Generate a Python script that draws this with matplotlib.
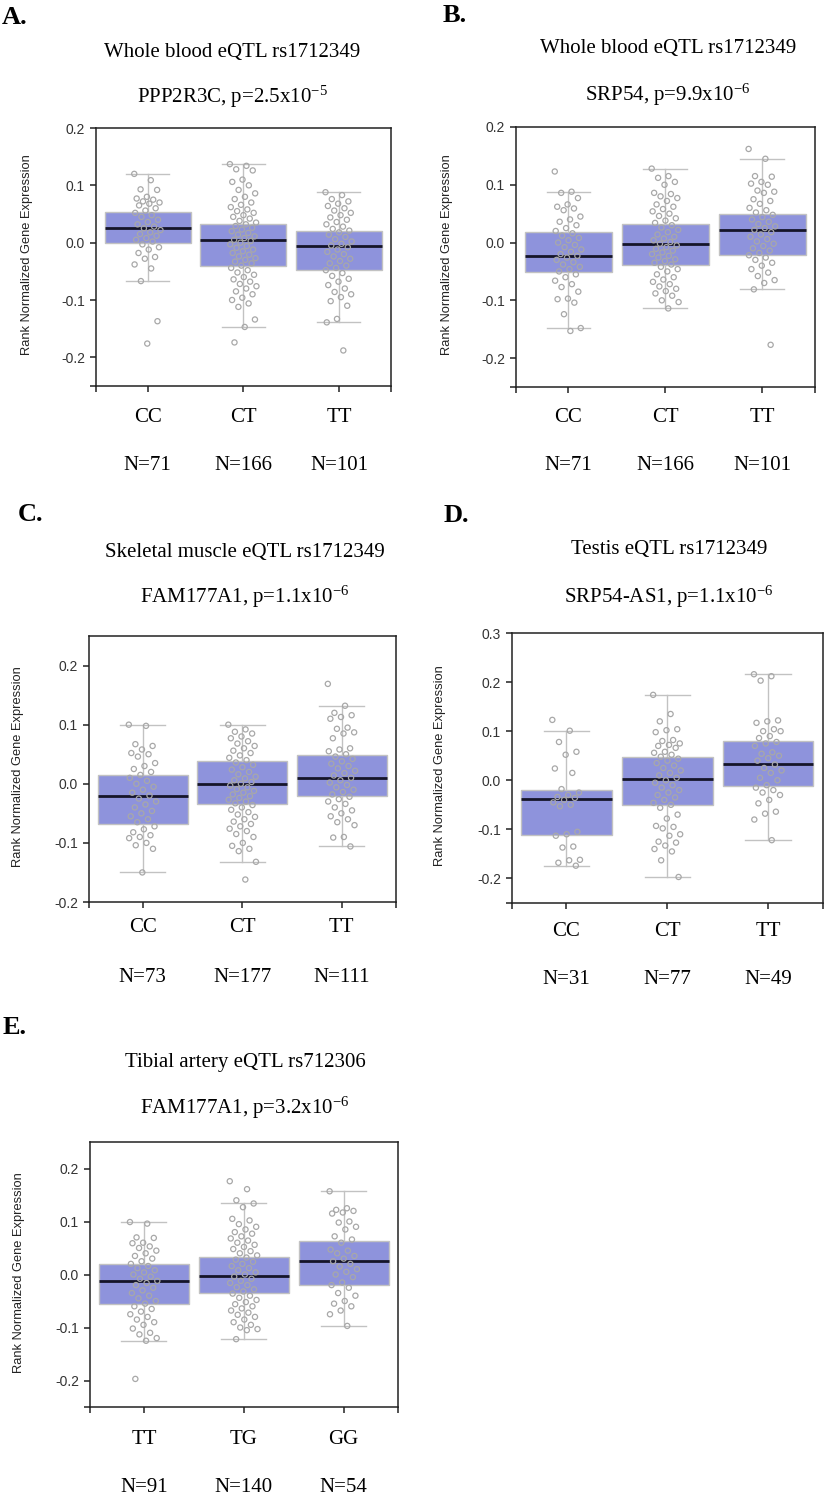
import numpy as np
import matplotlib
matplotlib.use("Agg")
import matplotlib.pyplot as plt

plt.rcParams['mathtext.fontset'] = 'custom'
plt.rcParams['mathtext.rm'] = 'Liberation Serif'
plt.rcParams['mathtext.it'] = 'Liberation Serif:italic'

SERIF = 'Liberation Serif'
SANS = 'Liberation Sans'

# ---------------------------------------------------------------
# Panel meta data
# ---------------------------------------------------------------
panel_letters = ['A.', 'B.', 'C.', 'D.', 'E.']
tissue_titles = ['Whole blood eQTL rs1712349', 'Whole blood eQTL rs1712349',
                 'Skeletal muscle eQTL rs1712349', 'Testis eQTL rs1712349',
                 'Tibial artery eQTL rs712306']
gene_titles = [r'PPP2R3C, p=2.5x10$^{-5}$', r'SRP54, p=9.9x10$^{-6}$',
               r'FAM177A1, p=1.1x10$^{-6}$', r'SRP54-AS1, p=1.1x10$^{-6}$',
               r'FAM177A1, p=3.2x10$^{-6}$']
genotypes = [['CC', 'CT', 'TT'], ['CC', 'CT', 'TT'], ['CC', 'CT', 'TT'],
             ['CC', 'CT', 'TT'], ['TT', 'TG', 'GG']]
sample_sizes = [[71, 166, 101], [71, 166, 101], [73, 177, 111],
                [31, 77, 49], [91, 140, 54]]
y_limits = [(-0.25, 0.2), (-0.25, 0.2), (-0.2, 0.25), (-0.25, 0.3), (-0.25, 0.25)]
y_ticks = [[-0.2, -0.1, 0.0, 0.1, 0.2], [-0.2, -0.1, 0.0, 0.1, 0.2],
           [-0.2, -0.1, 0.0, 0.1, 0.2], [-0.2, -0.1, 0.0, 0.1, 0.2, 0.3],
           [-0.2, -0.1, 0.0, 0.1, 0.2]]

# box statistics per group: (whisker low, q1, median, q3, whisker high)
box_stats = [
    [(-0.067, 0.000, 0.026, 0.054, 0.119), (-0.147, -0.040, 0.004, 0.032, 0.137), (-0.139, -0.048, -0.005, 0.021, 0.088)],
    [(-0.148, -0.051, -0.023, 0.018, 0.088), (-0.114, -0.038, -0.003, 0.032, 0.128), (-0.081, -0.022, 0.022, 0.049, 0.145)],
    [(-0.149, -0.068, -0.020, 0.015, 0.100), (-0.132, -0.034, -0.001, 0.039, 0.100), (-0.106, -0.020, 0.010, 0.048, 0.132)],
    [(-0.175, -0.112, -0.038, -0.020, 0.101), (-0.197, -0.050, 0.002, 0.048, 0.174), (-0.122, -0.012, 0.033, 0.080, 0.216)],
    [(-0.125, -0.056, -0.013, 0.020, 0.100), (-0.122, -0.035, -0.003, 0.033, 0.134), (-0.097, -0.020, 0.025, 0.064, 0.157)],
]

# individual sample values (overlapping points merged)
A_CC = [0.120, 0.109, 0.093, 0.092, 0.080, 0.077, 0.075, 0.072, 0.070, 0.068, 0.065, 0.060, 0.056, 0.052,
        0.048, 0.045, 0.040, 0.036, 0.032, 0.028, 0.025, 0.022, 0.018, 0.015, 0.012, 0.008, 0.005, 0.002,
        -0.003, -0.008, -0.012, -0.018, -0.025, -0.028, -0.038, -0.045, -0.067, -0.137, -0.176]
A_CT = [0.137, 0.134, 0.128, 0.126, 0.110, 0.106, 0.100, 0.092, 0.086, 0.080, 0.076, 0.070, 0.066, 0.062,
        0.058, 0.055, 0.052, 0.048, 0.045, 0.042, 0.038, 0.035, 0.032, 0.029, 0.026, 0.023, 0.020, 0.017,
        0.014, 0.011, 0.008, 0.005, 0.003, 0.000, -0.003, -0.006, -0.009, -0.012, -0.015, -0.018, -0.021,
        -0.024, -0.027, -0.030, -0.033, -0.036, -0.040, -0.044, -0.048, -0.052, -0.056, -0.060, -0.064,
        -0.068, -0.072, -0.076, -0.080, -0.085, -0.090, -0.096, -0.100, -0.106, -0.112, -0.134, -0.147, -0.174]
A_TT = [0.088, 0.083, 0.076, 0.072, 0.068, 0.064, 0.060, 0.056, 0.052, 0.048, 0.044, 0.040, 0.036, 0.032,
        0.028, 0.024, 0.021, 0.018, 0.014, 0.010, 0.006, 0.002, -0.002, -0.005, -0.008, -0.012, -0.016,
        -0.020, -0.024, -0.028, -0.032, -0.036, -0.040, -0.044, -0.048, -0.053, -0.058, -0.063, -0.068,
        -0.074, -0.080, -0.086, -0.090, -0.095, -0.102, -0.110, -0.133, -0.139, -0.188]

B_CC = [0.123, 0.088, 0.086, 0.077, 0.066, 0.062, 0.059, 0.056, 0.045, 0.040, 0.036, 0.030, 0.025, 0.020,
        0.016, 0.012, 0.008, 0.004, 0.000, -0.004, -0.008, -0.012, -0.016, -0.020, -0.023, -0.026, -0.030,
        -0.034, -0.038, -0.042, -0.046, -0.050, -0.055, -0.060, -0.066, -0.072, -0.077, -0.085, -0.097,
        -0.098, -0.104, -0.124, -0.148, -0.153]
B_CT = [0.128, 0.115, 0.112, 0.105, 0.100, 0.086, 0.084, 0.080, 0.077, 0.072, 0.066, 0.062, 0.058, 0.054,
        0.050, 0.046, 0.042, 0.038, 0.034, 0.030, 0.026, 0.022, 0.018, 0.014, 0.010, 0.007, 0.004, 0.001,
        -0.002, -0.005, -0.008, -0.011, -0.014, -0.017, -0.020, -0.023, -0.026, -0.029, -0.032, -0.035,
        -0.038, -0.042, -0.046, -0.050, -0.055, -0.060, -0.064, -0.068, -0.072, -0.076, -0.080, -0.084,
        -0.088, -0.092, -0.100, -0.103, -0.114]
B_TT = [0.162, 0.145, 0.115, 0.114, 0.105, 0.102, 0.100, 0.090, 0.088, 0.086, 0.075, 0.072, 0.067, 0.060,
        0.056, 0.052, 0.048, 0.044, 0.040, 0.036, 0.032, 0.028, 0.025, 0.022, 0.018, 0.014, 0.010, 0.006,
        0.002, -0.002, -0.006, -0.010, -0.014, -0.018, -0.022, -0.026, -0.030, -0.035, -0.040, -0.046,
        -0.052, -0.058, -0.065, -0.070, -0.081, -0.177]

C_CC = [0.100, 0.098, 0.067, 0.064, 0.058, 0.052, 0.050, 0.046, 0.035, 0.030, 0.025, 0.020, 0.015, 0.010,
        0.005, 0.000, -0.005, -0.010, -0.015, -0.020, -0.025, -0.030, -0.035, -0.040, -0.046, -0.050,
        -0.055, -0.060, -0.065, -0.072, -0.077, -0.082, -0.087, -0.090, -0.092, -0.100, -0.104, -0.110, -0.150]
C_CT = [0.100, 0.092, 0.088, 0.085, 0.080, 0.077, 0.072, 0.068, 0.064, 0.060, 0.056, 0.052, 0.048, 0.044,
        0.040, 0.036, 0.032, 0.028, 0.024, 0.020, 0.016, 0.012, 0.009, 0.006, 0.003, 0.000, -0.003, -0.006,
        -0.009, -0.012, -0.015, -0.018, -0.021, -0.024, -0.027, -0.030, -0.033, -0.036, -0.040, -0.044,
        -0.048, -0.052, -0.056, -0.060, -0.064, -0.068, -0.072, -0.076, -0.080, -0.085, -0.090, -0.100,
        -0.105, -0.110, -0.114, -0.132, -0.162]
C_TT = [0.169, 0.132, 0.120, 0.116, 0.113, 0.110, 0.095, 0.093, 0.087, 0.085, 0.077, 0.060, 0.058, 0.055,
        0.050, 0.046, 0.042, 0.038, 0.034, 0.030, 0.026, 0.022, 0.018, 0.014, 0.010, 0.006, 0.002, -0.002,
        -0.006, -0.010, -0.014, -0.018, -0.022, -0.026, -0.030, -0.034, -0.040, -0.045, -0.050, -0.055,
        -0.060, -0.065, -0.070, -0.090, -0.091, -0.106]

D_CC = [0.123, 0.101, 0.078, 0.058, 0.052, 0.024, 0.015, -0.018, -0.025, -0.030, -0.034, -0.036, -0.040,
        -0.045, -0.050, -0.053, -0.105, -0.110, -0.113, -0.135, -0.137, -0.162, -0.163, -0.168, -0.174]
D_CT = [0.174, 0.135, 0.120, 0.104, 0.102, 0.098, 0.082, 0.080, 0.075, 0.072, 0.070, 0.066, 0.058, 0.056,
        0.052, 0.048, 0.044, 0.040, 0.035, 0.030, 0.025, 0.020, 0.015, 0.010, 0.005, 0.000, -0.005, -0.010,
        -0.015, -0.020, -0.025, -0.030, -0.035, -0.040, -0.046, -0.050, -0.056, -0.070, -0.078, -0.093,
        -0.095, -0.098, -0.110, -0.113, -0.125, -0.127, -0.133, -0.140, -0.145, -0.163, -0.197]
D_TT = [0.216, 0.212, 0.203, 0.122, 0.120, 0.117, 0.104, 0.100, 0.100, 0.090, 0.086, 0.078, 0.075, 0.070,
        0.057, 0.054, 0.050, 0.045, 0.040, 0.032, 0.025, 0.020, 0.015, 0.005, 0.000, -0.010, -0.015, -0.020,
        -0.025, -0.030, -0.040, -0.047, -0.064, -0.068, -0.080, -0.122]

E_TT = [0.099, 0.096, 0.070, 0.069, 0.060, 0.059, 0.053, 0.050, 0.045, 0.040, 0.035, 0.030, 0.025, 0.020,
        0.016, 0.012, 0.008, 0.004, 0.000, -0.004, -0.008, -0.012, -0.016, -0.020, -0.025, -0.030, -0.035,
        -0.040, -0.045, -0.050, -0.055, -0.060, -0.065, -0.070, -0.075, -0.080, -0.085, -0.090, -0.095,
        -0.102, -0.110, -0.113, -0.120, -0.125, -0.197]
E_TG = [0.176, 0.161, 0.140, 0.134, 0.127, 0.105, 0.102, 0.095, 0.090, 0.085, 0.080, 0.077, 0.072, 0.068,
        0.064, 0.060, 0.056, 0.052, 0.048, 0.044, 0.040, 0.036, 0.032, 0.028, 0.024, 0.020, 0.016, 0.012,
        0.008, 0.004, 0.000, -0.004, -0.008, -0.012, -0.016, -0.020, -0.024, -0.028, -0.032, -0.036, -0.040,
        -0.044, -0.048, -0.052, -0.056, -0.060, -0.064, -0.068, -0.072, -0.076, -0.080, -0.085, -0.090,
        -0.095, -0.100, -0.103, -0.105, -0.122]
E_GG = [0.157, 0.125, 0.122, 0.120, 0.117, 0.115, 0.100, 0.098, 0.090, 0.085, 0.072, 0.066, 0.060, 0.047,
        0.045, 0.040, 0.035, 0.030, 0.025, 0.020, 0.015, 0.010, 0.005, 0.000, -0.005, -0.015, -0.020, -0.025,
        -0.035, -0.040, -0.050, -0.055, -0.060, -0.068, -0.075, -0.097]

points = [[A_CC, A_CT, A_TT], [B_CC, B_CT, B_TT], [C_CC, C_CT, C_TT],
          [D_CC, D_CT, D_TT], [E_TT, E_TG, E_GG]]

# ---------------------------------------------------------------
# Layout (pixel boxes in the 824 x 1499 canvas)
# ---------------------------------------------------------------
W, H = 824, 1499
# left, right, top, bottom of each plot frame
frames = [(96, 391, 128, 386), (516, 815, 127, 387), (89, 396, 636, 902),
          (512, 823, 633, 903), (90, 398, 1142, 1407)]
letter_xy = [(2, 17), (443, 16), (18, 515), (444, 516), (3, 1028)]
title_x = [232, 668, 245, 669, 245]
title_y = [(52, 97), (49, 95), (552, 597), (550, 597), (1063, 1108)]
label_y = [(418, 465), (418, 465), (928, 977), (932, 980), (1440, 1487)]
ylabel_x = [27, 447, 18, 440, 19]

BOX_COLOR = '#8e93dc'
GREY = '#c2c2c2'
DOT = '#a8a8a8'

fig = plt.figure(figsize=(W / 100, H / 100), dpi=100)


def fx(px):
    return px / W


def fy(py):
    return 1 - py / H


for p in range(5):
    l, r, t, b = frames[p]
    ax = fig.add_axes([fx(l), fy(b), (r - l) / W, (b - t) / H])

    stats = []
    for k, (lo, q1, med, q3, hi) in enumerate(box_stats[p]):
        stats.append(dict(whislo=lo, q1=q1, med=med, q3=q3, whishi=hi, fliers=[]))
    ax.bxp(stats, positions=[0, 1, 2], widths=0.9, patch_artist=True,
           showfliers=False, capwidths=0.45,
           boxprops=dict(facecolor=BOX_COLOR, edgecolor=GREY, linewidth=1.0),
           whiskerprops=dict(color=GREY, linewidth=1.0),
           capprops=dict(color=GREY, linewidth=1.0),
           medianprops=dict(color='#15152a', linewidth=2.0), zorder=2)

    for k, vals in enumerate(points[p]):
        vals = np.array(vals)
        # spread points sideways like a strip plot
        offs = ((np.arange(len(vals)) * 0.618034) % 1 - 0.5) * 0.28
        ax.scatter(k + offs, vals, s=14, facecolors='none', edgecolors=DOT,
                   linewidths=0.9, zorder=3)

    ax.set_xlim(-0.54, 2.545)
    ax.set_ylim(*y_limits[p])
    ax.set_yticks(y_ticks[p])
    ax.set_yticklabels(['%.1f' % v for v in y_ticks[p]], fontfamily=SANS, fontsize=10, color='#333333')
    ax.set_yticks([y_limits[p][0]], minor=True)
    ax.set_xticks([0, 1, 2])
    ax.set_xticklabels([])
    ax.set_xticks([-0.54, 2.545], minor=True)
    ax.tick_params(which='both', direction='out', length=4.5, width=1.1, color='#222222')
    for s in ax.spines.values():
        s.set_color('#222222')
        s.set_linewidth(1.1)

    # text around the plot
    fig.text(fx(letter_xy[p][0]), fy(letter_xy[p][1]), panel_letters[p], fontfamily=SERIF,
             fontsize=19, fontweight='bold', ha='left', va='center')
    fig.text(fx(title_x[p]), fy(title_y[p][0]), tissue_titles[p], fontfamily=SERIF,
             fontsize=15, ha='center', va='center')
    fig.text(fx(title_x[p]), fy(title_y[p][1]), gene_titles[p], fontfamily=SERIF,
             fontsize=15, ha='center', va='center')
    fig.text(fx(ylabel_x[p]), fy((t + b) / 2 - 2), 'Rank Normalized Gene Expression',
             fontfamily=SANS, fontsize=9.3, rotation=90, ha='center', va='center', color='#222222')
    for k in range(3):
        xk = l + (k + 0.54) / 3.085 * (r - l)
        fig.text(fx(xk), fy(label_y[p][0]), genotypes[p][k], fontfamily=SERIF,
                 fontsize=15, ha='center', va='center')
        fig.text(fx(xk), fy(label_y[p][1]), 'N=%d' % sample_sizes[p][k], fontfamily=SERIF,
                 fontsize=15, ha='center', va='center')

fig.savefig('out.png', dpi=100)
